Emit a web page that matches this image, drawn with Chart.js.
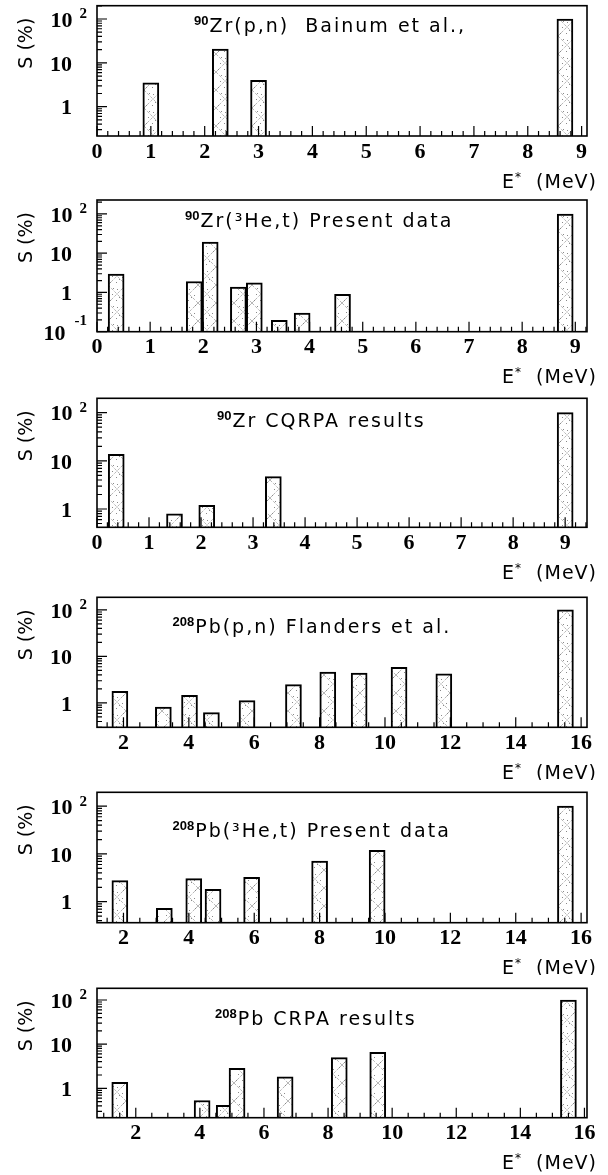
<!DOCTYPE html>
<html>
<head>
  <meta charset="UTF-8">
  <title>Gamow-Teller strength, 90Zr and 208Pb</title>
  <script src="https://cdn.jsdelivr.net/npm/chart.js"></script>
  <style>
    body {
      margin: 0;
      background: #fff;
    }
    canvas {
      position: absolute;
      left: 0;
    }
  </style>
</head>
<body>
  <canvas id="p0" width="608" height="195" style="top:0px"></canvas>
  <canvas id="p1" width="608" height="195" style="top:195px"></canvas>
  <canvas id="p2" width="608" height="195" style="top:390px"></canvas>
  <canvas id="p3" width="608" height="195" style="top:585px"></canvas>
  <canvas id="p4" width="608" height="195" style="top:780px"></canvas>
  <canvas id="p5" width="608" height="200" style="top:975px"></canvas>

  <script>
    // Strength S (%) per state
    const zrPnEnergy = [1.00, 2.29, 3.00, 8.69];
    const zrPnStrength = [3.5, 20.7, 4.0, 100];

    const zrHeEnergy = [0.36, 1.83, 2.13, 2.66, 2.96, 3.43, 3.86, 4.62, 8.81];
    const zrHeStrength = [2.94, 1.9, 19.1, 1.37, 1.76, 0.195, 0.30, 0.89, 100];

    const zrCqrpaEnergy = [0.37, 1.49, 2.11, 3.39, 9.0];
    const zrCqrpaStrength = [13.7, 0.79, 1.19, 4.7, 100];

    const pbPnEnergy = [1.89, 3.22, 4.02, 4.69, 5.78, 7.20, 8.25, 9.21, 10.43, 11.80, 15.52];
    const pbPnStrength = [1.77, 0.82, 1.45, 0.62, 1.12, 2.47, 4.6, 4.4, 5.8, 4.2, 100];

    const pbHeEnergy = [1.89, 3.25, 4.15, 4.74, 5.92, 8.0, 9.76, 15.52];
    const pbHeStrength = [2.75, 0.73, 3.03, 1.82, 3.24, 7.1, 11.9, 100];

    const pbCrpaEnergy = [1.50, 4.07, 4.76, 5.16, 6.66, 8.35, 9.55, 15.5];
    const pbCrpaStrength = [1.37, 0.53, 0.41, 2.84, 1.81, 4.95, 6.5, 100];

    // tick labels
    const zrTicks = [0, 1, 2, 3, 4, 5, 6, 7, 8, 9];
    const pbTicks = [2, 4, 6, 8, 10, 12, 14, 16];
    const yTicks = [100, 10, 1];
    const yTicksLow = [100, 10, 1, 0.1];

    const panels = [
      { id: 'p0', energy: zrPnEnergy, strength: zrPnStrength, nucleus: '90', reaction: 'Zr(p,n)  Bainum et al.,',
        xMin: 0, xMax: 9.1, xTicks: zrTicks, minorStep: 0.2, majorStep: 1,
        yMin: 0.215, yMax: 201, yTicks: yTicks, top: 5.7, bottom: 136, titleX: 194, titleDy: 26 },
      { id: 'p1', energy: zrHeEnergy, strength: zrHeStrength, nucleus: '90', reaction: 'Zr(\u00b3He,t) Present data',
        xMin: 0, xMax: 9.22, xTicks: zrTicks, minorStep: 0.2, majorStep: 1,
        yMin: 0.1, yMax: 227, yTicks: yTicksLow, top: 5, bottom: 136.7, titleX: 185, titleDy: 26.7 },
      { id: 'p2', energy: zrCqrpaEnergy, strength: zrCqrpaStrength, nucleus: '90', reaction: 'Zr CQRPA results',
        xMin: 0, xMax: 9.42, xTicks: zrTicks, minorStep: 0.2, majorStep: 1,
        yMin: 0.417, yMax: 199, yTicks: yTicks, top: 8.3, bottom: 137.3, titleX: 217, titleDy: 28.4 },
      { id: 'p3', energy: pbPnEnergy, strength: pbPnStrength, nucleus: '208', reaction: 'Pb(p,n) Flanders et al.',
        xMin: 1.19, xMax: 16.18, xTicks: pbTicks, minorStep: 0.5, majorStep: 2,
        yMin: 0.306, yMax: 186, yTicks: yTicks, top: 12.3, bottom: 142.3, titleX: 172.5, titleDy: 36 },
      { id: 'p4', energy: pbHeEnergy, strength: pbHeStrength, nucleus: '208', reaction: 'Pb(\u00b3He,t) Present data',
        xMin: 1.19, xMax: 16.18, xTicks: pbTicks, minorStep: 0.5, majorStep: 2,
        yMin: 0.363, yMax: 195, yTicks: yTicks, top: 12.3, bottom: 142.7, titleX: 172.5, titleDy: 44.4 },
      { id: 'p5', energy: pbCrpaEnergy, strength: pbCrpaStrength, nucleus: '208', reaction: 'Pb CRPA results',
        xMin: 0.79, xMax: 16.08, xTicks: pbTicks, minorStep: 0.5, majorStep: 2,
        yMin: 0.216, yMax: 184, yTicks: yTicks, top: 13.3, bottom: 142.7, titleX: 215, titleDy: 36.7 }
    ];

    const tickFont = 'bold 22px "Liberation Serif"';
    const expFont = 'bold 15px "Liberation Serif"';
    const textFont = '19px "DejaVu Sans"';

    // ROOT-like cross hatch with dots
    function makeHatch() {
      const c = document.createElement('canvas');
      c.width = 18; c.height = 18;
      const g = c.getContext('2d');
      g.fillStyle = '#fff';
      g.fillRect(0, 0, 18, 18);
      g.strokeStyle = '#9a9a9a';
      g.lineWidth = 0.7;
      g.setLineDash([3, 1.5]);
      g.beginPath();
      g.moveTo(0, 0); g.lineTo(18, 18);
      g.moveTo(18, 0); g.lineTo(0, 18);
      g.stroke();
      g.fillStyle = '#8a8a8a';
      [[4, 9], [9, 4], [14, 10], [8, 15], [15, 2], [2, 15], [11, 12], [5, 3]].forEach(([px, py]) => g.fillRect(px, py, 1, 1));
      return g.createPattern(c, 'repeat');
    }
    const hatch = makeHatch();

    // frame, inward ticks, labels and titles drawn from the chart scales
    const decor = {
      id: 'decor',
      afterDatasetsDraw(chart, args, o) {
        const { ctx, chartArea: a, scales: { x, y } } = chart;
        ctx.save();
        ctx.strokeStyle = '#000';
        ctx.fillStyle = '#000';

        ctx.lineWidth = 1.6;
        ctx.strokeRect(a.left, a.top, a.right - a.left, a.bottom - a.top);

        ctx.lineWidth = 1.2;
        ctx.beginPath();
        const n0 = Math.ceil(x.min / o.minorStep - 1e-6);
        const n1 = Math.floor(x.max / o.minorStep + 1e-6);
        for (let k = n0; k <= n1; k++) {
          const v = k * o.minorStep;
          const r = v / o.majorStep;
          const major = Math.abs(r - Math.round(r)) < 1e-6;
          const px = x.getPixelForValue(v);
          ctx.moveTo(px, a.bottom);
          ctx.lineTo(px, a.bottom - (major ? 10 : 5));
        }
        for (let d = Math.floor(Math.log10(y.min)); d <= Math.ceil(Math.log10(y.max)); d++) {
          for (let m = 1; m <= 9; m++) {
            const v = m * Math.pow(10, d);
            if (v < y.min * 0.999 || v > y.max) continue;
            const py = y.getPixelForValue(v);
            ctx.moveTo(a.left, py);
            ctx.lineTo(a.left + (m === 1 ? 10 : 5), py);
          }
        }
        ctx.stroke();

        // x tick labels
        ctx.font = tickFont;
        ctx.textAlign = 'center';
        ctx.textBaseline = 'middle';
        o.xTicks.forEach(v => ctx.fillText(String(v), x.getPixelForValue(v), a.bottom + 16));

        // y tick labels, 10^n style
        o.yTicks.forEach(v => {
          const exp = Math.round(Math.log10(v));
          const py = y.getPixelForValue(v) + (exp < 0 ? 3 : 2);
          ctx.textBaseline = 'middle';
          ctx.textAlign = 'right';
          ctx.font = tickFont;
          if (exp === 0 || exp === 1) {
            ctx.fillText(exp === 1 ? '10' : '1', a.left - 25, py);
          } else {
            const sup = String(exp);
            ctx.font = expFont;
            const w = ctx.measureText(sup).width;
            ctx.textBaseline = 'alphabetic';
            ctx.textAlign = 'left';
            ctx.fillText(sup, a.left - 10 - w, py - (exp < 0 ? 10 : 2.5));
            ctx.font = tickFont;
            ctx.textBaseline = 'middle';
            ctx.textAlign = 'right';
            ctx.fillText('10', a.left - 10 - w - (exp < 0 ? 9 : 7), py);
          }
        });

        // panel title
        ctx.textAlign = 'left';
        ctx.textBaseline = 'alphabetic';
        const ty = a.top + o.titleDy;
        ctx.font = 'bold 13px "Liberation Sans"';
        ctx.fillText(o.nucleus, o.titleX, ty - 7);
        const tx = o.titleX + ctx.measureText(o.nucleus).width + 1;
        ctx.font = textFont;
        ctx.letterSpacing = '2px';
        ctx.fillText(o.reaction, tx, ty);

        // x axis title E* (MeV), right aligned
        ctx.letterSpacing = '1px';
        const by = a.bottom + 51.5;
        ctx.font = textFont;
        const wE = ctx.measureText('E').width;
        const wUnit = ctx.measureText('  (MeV)').width;
        ctx.font = '12px "DejaVu Sans"';
        const wStar = ctx.measureText('*').width;
        let ex = a.right + 10 - wE - wStar - wUnit;
        ctx.font = textFont;
        ctx.fillText('E', ex, by);
        ex += wE;
        ctx.font = '12px "DejaVu Sans"';
        ctx.fillText('*', ex, by - 7);
        ex += wStar;
        ctx.font = textFont;
        ctx.fillText('  (MeV)', ex, by);

        // y axis title, rotated
        ctx.letterSpacing = '0px';
        ctx.translate(32, a.top + 12);
        ctx.rotate(-Math.PI / 2);
        ctx.textAlign = 'right';
        ctx.font = textFont;
        ctx.fillText('S (%)', 0, 0);

        ctx.restore();
      }
    };

    panels.forEach(p => {
      const canvas = document.getElementById(p.id);
      new Chart(canvas, {
        type: 'bar',
        data: {
          datasets: [{
            data: p.energy.map((e, i) => ({ x: e, y: p.strength[i] })),
            backgroundColor: hatch,
            borderColor: '#000',
            borderWidth: 2,
            barThickness: 16
          }]
        },
        options: {
          responsive: false,
          animation: false,
          events: [],
          layout: {
            padding: { left: 97, right: 21, top: p.top, bottom: canvas.height - p.bottom }
          },
          plugins: {
            legend: { display: false },
            tooltip: { enabled: false },
            decor: p
          },
          scales: {
            x: { type: 'linear', min: p.xMin, max: p.xMax, offset: false, display: false },
            y: { type: 'logarithmic', min: p.yMin, max: p.yMax, display: false }
          }
        },
        plugins: [decor]
      });
    });
  </script>
</body>
</html>
